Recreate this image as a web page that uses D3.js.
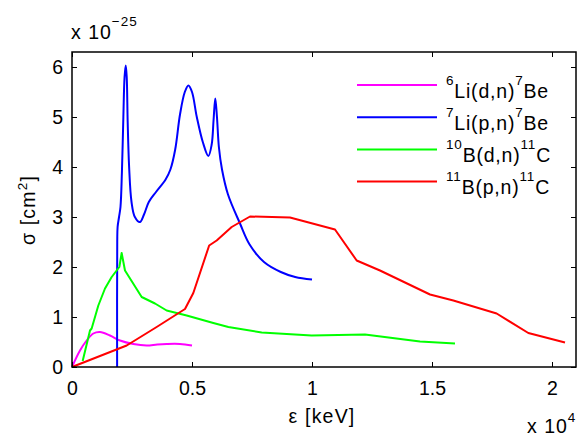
<!DOCTYPE html>
<html>
<head>
<meta charset="utf-8">
<script src="https://cdn.jsdelivr.net/npm/d3@7"></script>
<style>
  body { margin: 0; background: #fff; }
  text { font-family: "Liberation Sans", Arial, sans-serif; }
</style>
</head>
<body>
<div class="container"></div>
<script>
// energy in keV, cross section in units of 1e-25 cm^2
const liDN = [[0,0],[333,0.33],[611,0.53],[889,0.67],[1167,0.7],[1583,0.63],[2000,0.53],[2555,0.46],[3111,0.43],[3550,0.45],[3944,0.46],[4500,0.46],[5000,0.43]]

const liPN = [[1880,0],[1885,2.5],[1900,2.8],[1960,3.0],[2020,3.2],[2080,3.9],[2140,5.0],[2190,5.8],[2240,6.03],[2280,5.8],[2320,4.9],[2380,4.0],[2480,3.3],[2620,3.0],[2830,2.9],[3000,3.05],[3200,3.3],[3500,3.5],[3900,3.75],[4100,3.95],[4300,4.35],[4500,5.05],[4700,5.5],[4850,5.63],[5000,5.5],[5200,5.0],[5450,4.5],[5680,4.22],[5820,4.45],[5900,4.95],[5970,5.37],[6040,5.0],[6120,4.4],[6250,3.95],[6500,3.45],[7000,2.87],[7400,2.45],[8000,2.1],[8700,1.9],[9300,1.8],[10000,1.75]]

const bDN = [[444,0.12],[750,0.73],[819,0.77],[1097,1.23],[1375,1.57],[1653,1.8],[1972,2.0],[2069,2.28],[2208,1.93],[2903,1.4],[3458,1.27],[3944,1.13],[4778,1.03],[5889,0.88],[6514,0.8],[7903,0.69],[9986,0.63],[12208,0.65],[14500,0.51],[15958,0.47]]

const bPN = [[0,0],[2278,0.43],[3528,0.8],[4708,1.16],[5055,1.48],[5715,2.43],[6028,2.53],[6653,2.8],[7417,3.01],[9083,2.99],[10958,2.75],[11861,2.13],[12833,1.93],[14917,1.45],[15889,1.33],[17694,1.07],[19014,0.68],[20542,0.49]]

const xTicks = [0, 5000, 10000, 15000, 20000]
const xTickLabels = ["0", "0.5", "1", "1.5", "2"]
const yTicks = [0, 1, 2, 3, 4, 5, 6]

const series = [
  { name: ["6", "Li(d,n)", "7", "Be"], data: liDN, color: "#ff00ff", curve: d3.curveCatmullRom },
  { name: ["7", "Li(p,n)", "7", "Be"], data: liPN, color: "#0000ff", curve: d3.curveCatmullRom },
  { name: ["10", "B(d,n)", "11", "C"], data: bDN, color: "#00ff00", curve: d3.curveLinear },
  { name: ["11", "B(p,n)", "11", "C"], data: bPN, color: "#ff0000", curve: d3.curveLinear }
]

const width = 578
const height = 436
const margin = { top: 52, right: 2, bottom: 69, left: 72 }
const fs = "19.5px"

const svg = d3.select(".container")
  .append("svg")
  .attr("width", width)
  .attr("height", height)

const x = d3.scaleLinear()
  .domain([0, 21000])
  .range([margin.left, width - margin.right])

const y = d3.scaleLinear()
  .domain([0, 6.3])
  .range([height - margin.bottom, margin.top])

// lines
series.forEach(s => {
  svg.append("path")
    .datum(s.data)
    .attr("fill", "none")
    .attr("stroke", s.color)
    .attr("stroke-width", 2)
    .attr("stroke-linejoin", "round")
    .attr("d", d3.line().x(d => x(d[0])).y(d => y(d[1])).curve(s.curve))
})

// axes, ticks pointing inward
let axBottom = svg.append("g")
  .attr("transform", `translate(0, ${y(0)})`)
  .call(d3.axisBottom(x).tickValues(xTicks).tickSize(-5).tickPadding(14.5)
    .tickFormat((d, i) => xTickLabels[i]))

let axTop = svg.append("g")
  .attr("transform", `translate(0, ${y.range()[1]})`)
  .call(d3.axisTop(x).tickValues(xTicks).tickSize(-5).tickFormat(""))

let axLeft = svg.append("g")
  .attr("transform", `translate(${x(0)}, 0)`)
  .call(d3.axisLeft(y).tickValues(yTicks).tickSize(-5).tickPadding(9).tickFormat(d3.format("d")))

let axRight = svg.append("g")
  .attr("transform", `translate(${x.range()[1]}, 0)`)
  .call(d3.axisRight(y).tickValues(yTicks).tickSize(-5).tickFormat(""))

;[axBottom, axTop, axLeft, axRight].forEach(g => {
  g.select(".domain").remove()
  g.selectAll("line").attr("stroke", "#000").attr("stroke-width", 1)
  g.selectAll("text").attr("font-size", fs).attr("fill", "#000")
    .attr("font-family", "'Liberation Sans', Arial, sans-serif")
})

svg.append("rect")
  .attr("x", x.range()[0])
  .attr("y", y.range()[1])
  .attr("width", x.range()[1] - x.range()[0])
  .attr("height", y.range()[0] - y.range()[1])
  .attr("fill", "none")
  .attr("stroke", "#000")
  .attr("stroke-width", 1.5)

// axis labels
svg.append("text")
  .attr("x", 322)
  .attr("y", 423)
  .attr("text-anchor", "middle")
  .attr("font-size", fs)
  .attr("letter-spacing", "1.2px")
  .text("ε [keV]")

let yl = svg.append("text")
  .attr("transform", "translate(35, 210) rotate(-90)")
  .attr("text-anchor", "middle")
  .attr("font-size", fs)
  .attr("letter-spacing", "1.2px")
yl.append("tspan").text("σ [cm")
yl.append("tspan").attr("dy", -8).attr("font-size", "13.5px").text("2")
yl.append("tspan").attr("dy", 8).text("]")

// exponent notes
let ex1 = svg.append("text").attr("x", 71).attr("y", 39).attr("font-size", fs).attr("letter-spacing", "1px")
ex1.append("tspan").text("x 10")
ex1.append("tspan").attr("dy", -13).attr("font-size", "13.5px").text("−25")

let ex2 = svg.append("text").attr("x", 527).attr("y", 433).attr("font-size", fs).attr("letter-spacing", "1px")
ex2.append("tspan").text("x 10")
ex2.append("tspan").attr("dy", -11).attr("font-size", "13.5px").text("4")

// legend
let legend = svg.append("g").attr("id", "legend")
series.forEach((s, i) => {
  let ly = 85 + i * 32.2
  legend.append("line")
    .attr("x1", 357).attr("x2", 437)
    .attr("y1", ly).attr("y2", ly)
    .attr("stroke", s.color)
    .attr("stroke-width", 2)
  let t = legend.append("text")
    .attr("x", 446)
    .attr("y", ly + 12.5)
    .attr("font-size", fs)
    .attr("letter-spacing", "0.8px")
  t.append("tspan").attr("dy", -13).attr("font-size", "13.5px").text(s.name[0])
  t.append("tspan").attr("dy", 13).text(s.name[1])
  t.append("tspan").attr("dy", -13).attr("font-size", "13.5px").text(s.name[2])
  t.append("tspan").attr("dy", 13).text(s.name[3])
})
</script>
</body>
</html>
